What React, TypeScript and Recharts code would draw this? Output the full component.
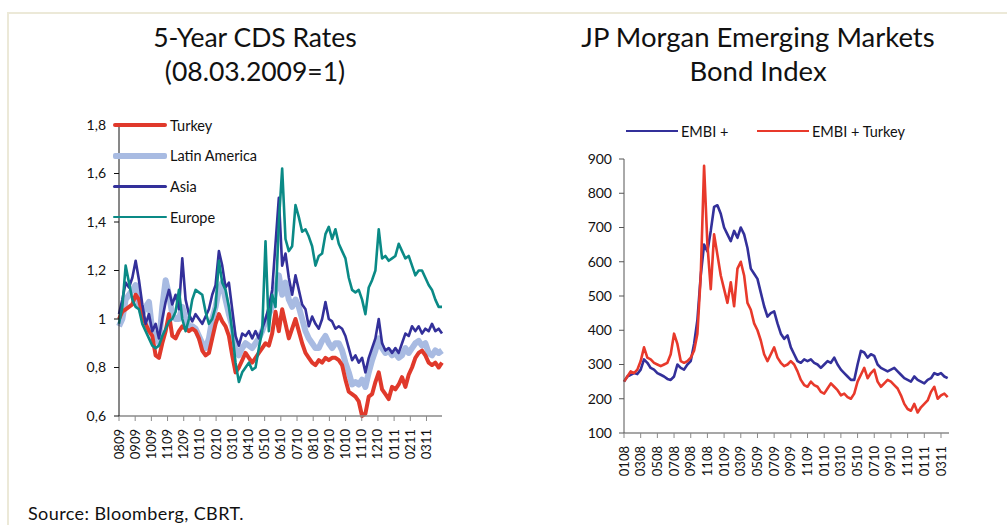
import React from 'react'
import { LineChart, Line, XAxis, YAxis } from 'recharts'

// left chart: 5-year CDS, samples every ~6 days from Aug 2009
const cdsTickLabels = ['0809', '0909', '1009', '1109', '1209', '0110', '0210', '0310', '0410', '0510', '0610', '0710', '0810', '0910', '1010', '1110', '1210', '0111', '0211', '0311']
const cdsYTicks = [0.6, 0.8, 1, 1.2, 1.4, 1.6, 1.8]

const cdsTurkey = [
  1.0, 1.03, 1.04, 1.05, 1.06, 1.1, 1.08, 1.02, 0.98, 0.95,
  0.93, 0.85, 0.84, 0.9, 0.95, 1.02, 0.93, 0.92, 0.95, 0.97,
  0.96, 0.95, 0.96, 0.95, 0.92, 0.87, 0.85, 0.86, 0.92, 0.98,
  1.02, 0.99, 0.97, 0.93, 0.85, 0.78, 0.8, 0.83, 0.86, 0.84,
  0.82, 0.84, 0.86, 0.88, 0.9, 0.89, 0.94, 1.03, 0.95, 1.04,
  0.98, 0.92, 0.96, 1.0, 0.95, 0.9, 0.86, 0.84, 0.82, 0.81,
  0.83, 0.82, 0.84, 0.83, 0.84, 0.84, 0.83, 0.81, 0.75, 0.7,
  0.69, 0.68, 0.66, 0.6, 0.61, 0.68, 0.69, 0.74, 0.78, 0.71,
  0.69, 0.67, 0.72, 0.71, 0.73, 0.76, 0.72, 0.77, 0.8, 0.84,
  0.86, 0.87, 0.85, 0.82, 0.81, 0.82, 0.8, 0.82,
]
const cdsLatam = [
  0.97, 1.0, 1.08, 1.1, 1.12, 1.14, 1.06, 1.02, 1.05, 1.07,
  0.95, 0.93, 0.9, 1.05, 1.16, 1.1, 1.02, 1.0, 1.0, 1.05,
  1.0, 0.97, 0.97, 0.96, 0.93, 0.9, 0.88, 0.92, 1.0, 1.05,
  1.12, 1.15, 1.08, 1.02, 0.97, 0.88, 0.85, 0.88, 0.9, 0.89,
  0.88, 0.9, 0.92, 0.95, 0.99, 1.02, 1.05, 1.12, 1.18, 1.1,
  1.15, 1.08, 1.05, 1.08, 1.05, 1.0, 0.95, 0.92, 0.9, 0.88,
  0.88, 0.91, 0.93, 0.9, 0.88, 0.9, 0.9, 0.87, 0.82, 0.78,
  0.73, 0.74, 0.73, 0.75, 0.72, 0.78, 0.83, 0.87, 0.92, 0.88,
  0.86, 0.87, 0.85, 0.86, 0.84, 0.85, 0.88, 0.86, 0.88, 0.9,
  0.91, 0.89, 0.9, 0.86, 0.85, 0.87, 0.86, 0.87,
]
const cdsAsia = [
  1.02, 1.08, 1.15, 1.13, 1.17, 1.24, 1.16, 1.06, 0.98, 1.02,
  0.95, 0.98, 0.92, 1.0, 1.07, 1.12, 1.06, 1.1, 1.04, 1.25,
  1.08, 1.02, 0.99, 1.02, 1.0, 0.98, 1.01, 1.04, 1.1, 1.14,
  1.28, 1.22, 1.13, 1.15, 1.04, 0.93, 0.89, 0.94, 0.93, 0.95,
  0.92, 0.95, 0.92, 0.96, 1.0, 1.05, 1.12, 1.31, 1.5, 1.22,
  1.27, 1.17, 1.1, 1.18, 1.12, 1.06, 1.04, 0.97, 1.01, 0.98,
  0.96, 1.0, 1.07, 1.0, 0.99, 0.96, 0.97, 0.96, 0.93, 0.88,
  0.83, 0.85, 0.82, 0.84, 0.78, 0.84, 0.88, 0.92, 1.0, 0.9,
  0.87, 0.88, 0.86, 0.88, 0.86, 0.9, 0.94, 0.93, 0.97, 0.95,
  0.97, 0.94, 0.96, 0.95, 0.98, 0.95, 0.96, 0.94,
]
const cdsEurope = [
  0.98, 1.05, 1.22, 1.15, 1.08, 1.05, 1.04, 0.98, 0.95, 0.92,
  0.89, 0.88, 0.89, 0.93, 0.96, 0.99, 1.0, 1.03, 1.12, 1.0,
  0.95, 1.0, 1.08, 1.12, 1.11, 1.1, 1.03, 0.98, 1.0, 1.05,
  1.24, 1.15, 1.12, 1.05, 0.95, 0.82, 0.74, 0.78, 0.8, 0.82,
  0.79, 0.8, 0.88, 0.95, 1.32, 0.95, 1.1, 1.05, 1.4, 1.62,
  1.33, 1.28, 1.3, 1.47, 1.42, 1.36, 1.37, 1.34, 1.3, 1.22,
  1.26, 1.27, 1.35, 1.38, 1.33, 1.37, 1.31, 1.28, 1.25, 1.17,
  1.12, 1.11, 1.12, 1.08, 1.02, 1.13, 1.16, 1.2, 1.37, 1.25,
  1.26, 1.24, 1.25, 1.26, 1.31, 1.28, 1.25, 1.26, 1.22, 1.18,
  1.2, 1.2, 1.17, 1.14, 1.12, 1.08, 1.05, 1.05,
]

// right chart: EMBI spreads, samples every 0.4 month from Jan 2008
const embiTickLabels = ['0108', '0308', '0508', '0708', '0908', '1108', '0109', '0309', '0509', '0709', '0909', '1109', '0110', '0310', '0510', '0710', '0910', '1110', '0111', '0311']
const embiYTicks = [100, 200, 300, 400, 500, 600, 700, 800, 900]

const embiPlus = [
  250, 265, 270, 275, 272, 285, 315, 305, 290, 285,
  275, 270, 265, 258, 255, 265, 300, 290, 285, 300,
  310, 360, 430, 560, 650, 630, 690, 760, 765, 740,
  700, 680, 660, 690, 670, 700, 680, 640, 580, 565,
  550, 510, 470, 440, 450, 455, 420, 390, 375, 385,
  350, 330, 310, 305, 315, 310, 315, 305, 300, 290,
  300, 310, 305, 320, 300, 285, 275, 265, 255, 255,
  300, 340, 335, 320, 330, 325, 300, 290, 285, 280,
  285, 290, 280, 270, 260, 255, 250, 265, 255, 250,
  245, 255, 260, 275, 270, 275, 265, 260,
]
const embiTurkey = [
  250, 265, 280, 275, 285, 310, 350, 320, 315, 305,
  300, 295, 300, 305, 330, 390, 360, 310, 305, 310,
  320, 340, 390, 560, 880, 650, 520, 680, 620, 560,
  520, 480, 540, 470, 580, 600, 560, 480, 460, 420,
  400, 370, 330, 310, 330, 350, 320, 305, 295, 300,
  310, 300, 280, 255, 240, 235, 250, 240, 235, 220,
  215, 230, 245, 235, 225, 210, 215, 205, 200, 215,
  250, 270, 290, 260, 275, 285, 250, 235, 245, 255,
  250, 240, 230, 210, 185, 170, 165, 185, 160, 175,
  185, 195, 220, 235, 200, 210, 215, 205,
]

const CDS_STEP = 10 / 48.6
const EMBI_STEP = 0.4

const cdsData = cdsTurkey.map((v, i) => ({
  m: i * CDS_STEP, turkey: v, latam: cdsLatam[i], asia: cdsAsia[i], europe: cdsEurope[i],
}))
const embiData = embiPlus.map((v, i) => ({ m: i * EMBI_STEP, plus: v, turkey: embiTurkey[i] }))

const cdsTicks = cdsTickLabels.map((_, i) => i)
const embiTicks = embiTickLabels.map((_, i) => i * 2)

const FONT = 'Lato, "Open Sans", sans-serif'

const cdsSeries = [
  { key: 'latam', name: 'Latin America', color: '#a8bbe2', width: 6 },
  { key: 'turkey', name: 'Turkey', color: '#e0392b', width: 4 },
  { key: 'asia', name: 'Asia', color: '#33309a', width: 2.6 },
  { key: 'europe', name: 'Europe', color: '#0a8a86', width: 2.6 },
]
const cdsLegendOrder = ['turkey', 'latam', 'asia', 'europe']

const embiSeries = [
  { key: 'plus', name: 'EMBI +', color: '#33309a', width: 2.6 },
  { key: 'turkey', name: 'EMBI + Turkey', color: '#e8392b', width: 2.6 },
]

const makeTick = (ticks: number[], labels: string[]) => (props: any) => {
  const { x, y, payload } = props
  const idx = ticks.indexOf(payload.value)
  return (
    <text x={x} y={y} dy="0.35em" transform={`rotate(-90, ${x}, ${y})`}
      textAnchor="end" fontSize={13} fill="#111" fontFamily={FONT}>
      {labels[idx]}
    </text>
  )
}

const App = () => {
  return (
    <div style={{ position: 'absolute', left: 0, top: 0, width: 1007, height: 525, background: '#fff', fontFamily: FONT, color: '#111' }}>
      {/* frame */}
      <div style={{ position: 'absolute', left: 7, top: 12, width: 999, height: 513, borderTop: '2px solid #ece9d8', borderLeft: '2px solid #ece9d8' }} />

      {/* titles */}
      <div style={{ position: 'absolute', left: 105, top: 20, width: 300, textAlign: 'center', fontSize: 26.5, lineHeight: '34px' }}>
        5-Year CDS Rates<br />(08.03.2009=1)
      </div>
      <div style={{ position: 'absolute', left: 558, top: 20, width: 400, textAlign: 'center', fontSize: 27.5, lineHeight: '34px' }}>
        JP Morgan Emerging Markets<br />Bond Index
      </div>

      {/* left chart */}
      <div style={{ position: 'absolute', left: 60, top: 110 }}>
        <LineChart width={400} height={380} data={cdsData} margin={{ top: 15, right: 18, left: 0, bottom: 0 }}>
          <XAxis dataKey="m" type="number" domain={[0, 97 * CDS_STEP]} ticks={cdsTicks} interval={0}
            height={74} tickSize={5} tickMargin={8}
            axisLine={{ stroke: '#8a8a8a', strokeWidth: 1.5 }} tickLine={{ stroke: '#8a8a8a' }}
            tick={makeTick(cdsTicks, cdsTickLabels)} />
          <YAxis type="number" domain={[0.6, 1.8]} ticks={cdsYTicks} interval={0} width={59}
            tickSize={5} tickMargin={8}
            tickFormatter={(v: number) => String(v).replace('.', ',')}
            axisLine={{ stroke: '#111' }} tickLine={{ stroke: '#111' }}
            tick={{ fontSize: 14, fill: '#111', fontFamily: FONT }} />
          {cdsSeries.map(s => (
            <Line key={s.key} type="linear" dataKey={s.key} name={s.name} stroke={s.color}
              strokeWidth={s.width} dot={false} isAnimationActive={false} strokeLinejoin="round" />
          ))}
        </LineChart>
      </div>
      {/* left legend */}
      {cdsLegendOrder.map((k, i) => {
        const s = cdsSeries.find(x => x.key === k)!
        return (
          <div key={k} style={{ position: 'absolute', left: 113, top: 125 + i * 30.7 - 10, height: 20, display: 'flex', alignItems: 'center' }}>
            <div style={{ width: 54, height: s.width, background: s.color, borderRadius: 2 }} />
            <span style={{ marginLeft: 3, fontSize: 14.5 }}>{s.name}</span>
          </div>
        )
      })}

      {/* right chart */}
      <div style={{ position: 'absolute', left: 560, top: 110 }}>
        <LineChart width={400} height={390} data={embiData} margin={{ top: 49, right: 11, left: 0, bottom: 0 }}>
          <XAxis dataKey="m" type="number" domain={[0, 38.96]} ticks={embiTicks} interval={0}
            height={67} tickSize={5} tickMargin={8}
            axisLine={{ stroke: '#8a8a8a', strokeWidth: 1.5 }} tickLine={{ stroke: '#8a8a8a' }}
            tick={makeTick(embiTicks, embiTickLabels)} />
          <YAxis type="number" domain={[100, 900]} ticks={embiYTicks} interval={0} width={64}
            tickSize={5} tickMargin={7}
            axisLine={{ stroke: '#555' }} tickLine={{ stroke: '#555' }}
            tick={{ fontSize: 14, fill: '#111', fontFamily: FONT }} />
          {embiSeries.map(s => (
            <Line key={s.key} type="linear" dataKey={s.key} name={s.name} stroke={s.color}
              strokeWidth={s.width} dot={false} isAnimationActive={false} strokeLinejoin="round" />
          ))}
        </LineChart>
      </div>
      {/* right legend */}
      {embiSeries.map((s, i) => (
        <div key={s.key} style={{ position: 'absolute', left: i === 0 ? 626 : 757, top: 121, height: 20, display: 'flex', alignItems: 'center' }}>
          <div style={{ width: 52, height: s.width, background: s.color }} />
          <span style={{ marginLeft: 3, fontSize: 14.5 }}>{s.name}</span>
        </div>
      ))}

      <div style={{ position: 'absolute', left: 28, top: 502, fontSize: 18, letterSpacing: 0.4 }}>Source: Bloomberg, CBRT.</div>
    </div>
  )
}

export default App
